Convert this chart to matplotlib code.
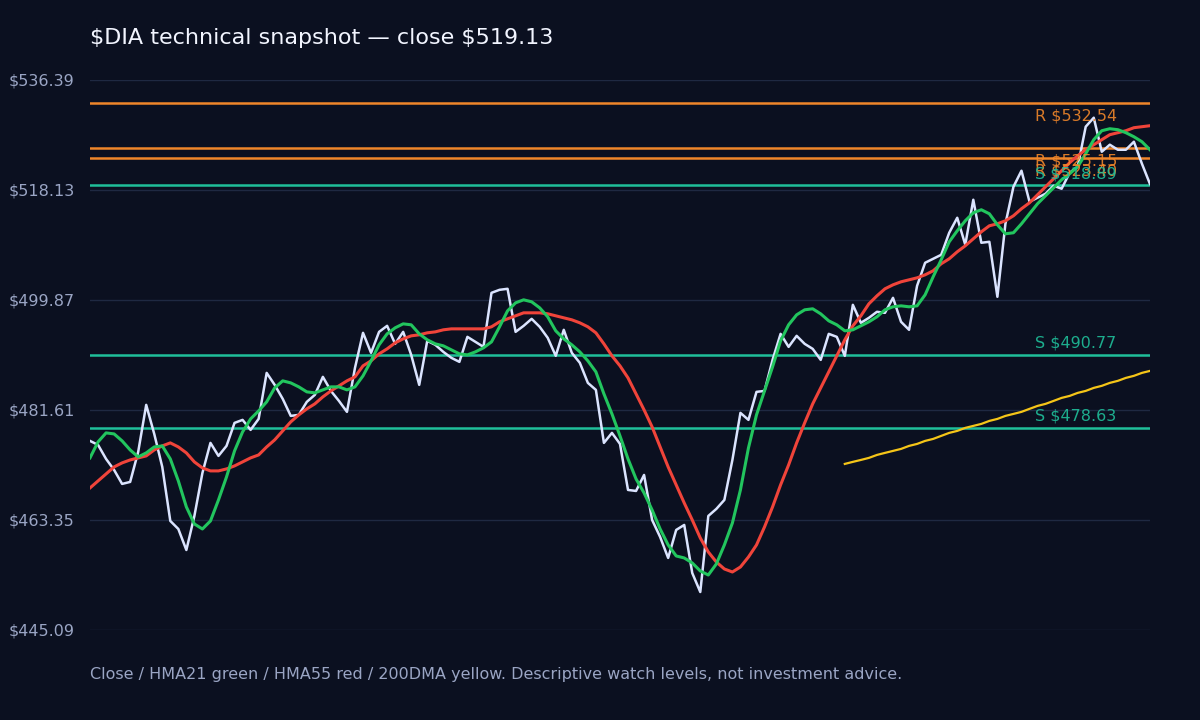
import numpy as np
import matplotlib.pyplot as plt
from matplotlib.transforms import blended_transform_factory

# daily closes (sampled), HMA21, HMA55, 200DMA
close = [476.48, 475.82, 473.49, 471.66, 469.34, 469.67, 474.65, 482.46, 477.64, 472.16,
         463.19, 461.86, 458.37, 464.02, 471.16, 476.15, 473.99, 475.65, 479.47, 479.97,
         478.31, 480.13, 487.77, 485.78, 483.46, 480.63, 480.80, 482.96, 484.12, 487.11,
         484.78, 483.12, 481.30, 488.61, 494.42, 491.10, 494.58, 495.58, 492.59, 494.58,
         490.76, 485.78, 493.09, 492.43, 491.26, 490.27, 489.60, 493.75, 492.92, 492.09,
         501.06, 501.56, 501.73, 494.58, 495.58, 496.74, 495.42, 493.59, 490.60, 494.92,
         491.10, 489.44, 486.11, 484.95, 476.15, 477.81, 475.98, 468.34, 468.17, 470.83,
         463.36, 460.53, 457.05, 461.70, 462.53, 454.55, 451.40, 464.02, 465.19, 466.68,
         473.32, 481.13, 479.97, 484.62, 484.78, 489.93, 494.25, 492.09, 493.92, 492.59,
         491.76, 489.93, 494.25, 493.75, 490.60, 499.07, 496.08, 496.91, 497.91, 497.74,
         500.23, 496.25, 494.92, 502.23, 506.05, 506.71, 507.37, 511.03, 513.52, 509.04,
         516.51, 509.37, 509.53, 500.40, 512.52, 518.67, 521.33, 516.18, 516.84, 517.51,
         518.84, 518.34, 520.99, 521.99, 528.64, 530.13, 524.48, 525.65, 524.81, 524.81,
         526.14, 522.49, 519.13]

hma21 = [473.66, 476.31, 477.81, 477.64, 476.48, 474.98, 473.82, 474.49, 475.48, 475.65,
         473.49, 469.84, 465.52, 462.69, 461.86, 463.19, 466.68, 470.50, 474.82, 477.97,
         480.13, 481.46, 482.96, 485.28, 486.45, 486.11, 485.45, 484.62, 484.45, 484.95,
         485.45, 485.45, 484.95, 485.45, 487.28, 489.77, 492.43, 494.25, 495.25, 495.91,
         495.75, 494.25, 493.26, 492.59, 492.26, 491.59, 490.93, 490.76, 491.26, 491.93,
         492.92, 495.42, 498.07, 499.40, 499.90, 499.57, 498.57, 497.08, 494.75, 493.42,
         492.43, 491.26, 489.77, 487.94, 484.29, 480.96, 477.31, 473.49, 470.17, 467.84,
         465.02, 461.86, 459.21, 457.38, 457.05, 456.22, 454.89, 454.22, 456.05, 459.21,
         462.86, 468.34, 475.32, 480.80, 484.78, 488.77, 493.09, 495.75, 497.41, 498.24,
         498.41, 497.57, 496.41, 495.75, 494.75, 494.92, 495.58, 496.25, 497.08, 498.24,
         498.74, 498.90, 498.74, 498.90, 500.73, 503.72, 506.54, 509.53, 511.36, 513.02,
         514.35, 514.85, 514.18, 512.36, 510.86, 511.03, 512.52, 514.18, 515.85, 517.17,
         518.50, 519.83, 520.83, 521.99, 524.15, 526.48, 527.97, 528.30, 528.14, 527.64,
         526.97, 526.14, 524.81]

hma55 = [468.67, 469.84, 471.00, 472.16, 472.83, 473.32, 473.66, 473.99, 474.98, 475.65,
         476.15, 475.48, 474.49, 472.99, 472.00, 471.50, 471.50, 471.83, 472.33, 472.99,
         473.66, 474.15, 475.48, 476.65, 478.14, 479.64, 480.80, 481.80, 482.63, 483.79,
         484.78, 485.62, 486.45, 487.11, 488.94, 489.77, 490.93, 491.76, 492.76, 493.42,
         493.92, 494.09, 494.42, 494.58, 494.92, 495.08, 495.08, 495.08, 495.08, 495.08,
         495.42, 496.25, 496.74, 497.24, 497.74, 497.74, 497.74, 497.58, 497.24, 496.91,
         496.58, 496.08, 495.42, 494.42, 492.59, 490.60, 488.94, 486.94, 484.29, 481.63,
         478.81, 475.48, 472.16, 469.17, 466.18, 463.36, 460.37, 458.04, 456.38, 455.22,
         454.72, 455.55, 457.21, 459.21, 462.20, 465.52, 469.17, 472.49, 476.15, 479.47,
         482.63, 485.28, 487.94, 490.60, 493.26, 495.58, 497.24, 499.24, 500.56, 501.73,
         502.39, 502.89, 503.22, 503.55, 504.05, 504.72, 505.88, 506.71, 507.87, 508.87,
         510.03, 511.19, 512.19, 512.52, 513.02, 513.85, 515.02, 516.01, 517.34, 518.67,
         520.00, 521.33, 522.66, 523.82, 524.81, 525.65, 526.48, 527.31, 527.64, 527.97,
         528.47, 528.64, 528.80]

dma200_start = 94
dma200 = [472.66, 473.00, 473.32, 473.66, 474.15, 474.49, 474.82, 475.15, 475.65, 475.98,
          476.48, 476.81, 477.31, 477.81, 478.14, 478.64, 478.97, 479.30, 479.80, 480.13,
          480.63, 480.96, 481.30, 481.80, 482.29, 482.63, 483.12, 483.62, 483.95, 484.45,
          484.78, 485.28, 485.62, 486.11, 486.45, 486.94, 487.28, 487.77, 488.10]

resistance = [532.54, 525.15, 523.40]
support = [518.89, 490.77, 478.63]

ymin, ymax = 445.09, 536.39

BG = '#0b1020'
GRID = '#1f2942'
MUTED = '#9aa5c4'
ORANGE = '#f0862a'
TEAL = '#1fbf9a'

x = np.arange(len(close))
x200 = np.arange(dma200_start, dma200_start + len(dma200))

fig = plt.figure(figsize=(12, 7.2), dpi=100, facecolor=BG)
ax = fig.add_axes([0.075, 0.125, 0.8833, 0.7639], facecolor=BG)

yt = np.linspace(ymin, ymax, 6)
for v in yt:
    ax.axhline(v, color=GRID, lw=1.0, zorder=1)

tr = blended_transform_factory(ax.transAxes, ax.transData)
for r in resistance:
    ax.axhline(r, color=ORANGE, lw=1.8, zorder=2)
    ax.annotate('R $%.2f' % r, xy=(0.8915, r), xycoords=tr, xytext=(0, -4),
                textcoords='offset points', ha='left', va='top',
                color=ORANGE, alpha=0.9, fontsize=11.5, zorder=5)
for s in support:
    ax.axhline(s, color=TEAL, lw=1.8, zorder=2)
    ax.annotate('S $%.2f' % s, xy=(0.8915, s), xycoords=tr, xytext=(0, 3),
                textcoords='offset points', ha='left', va='bottom',
                color=TEAL, alpha=0.9, fontsize=11.5, zorder=5)

ax.plot(x200, dma200, color='#f5c518', lw=1.6, zorder=3)
ax.plot(x, close, color='#dbe4ff', lw=1.8, zorder=3)
ax.plot(x, hma55, color='#f0443a', lw=2.2, zorder=4)
ax.plot(x, hma21, color='#22c55e', lw=2.2, zorder=4)

ax.set_xlim(0, len(close) - 1)
ax.set_ylim(ymin, ymax)
ax.set_yticks(yt)
ax.set_yticklabels(['$%.2f' % v for v in yt])
ax.set_xticks([])
ax.tick_params(axis='y', length=0, pad=11, labelsize=11.5, labelcolor=MUTED)
for sp in ax.spines.values():
    sp.set_visible(False)

fig.text(0.075, 1 - 38 / 720, r'\$DIA technical snapshot — close \$519.13',
         color='#f2f5ff', fontsize=16, va='center', ha='left')
fig.text(0.075, 1 - 675 / 720,
         'Close / HMA21 green / HMA55 red / 200DMA yellow. Descriptive watch levels, not investment advice.',
         color=MUTED, fontsize=11.5, va='center', ha='left')

fig.savefig('out.png', dpi=100, facecolor=BG)
